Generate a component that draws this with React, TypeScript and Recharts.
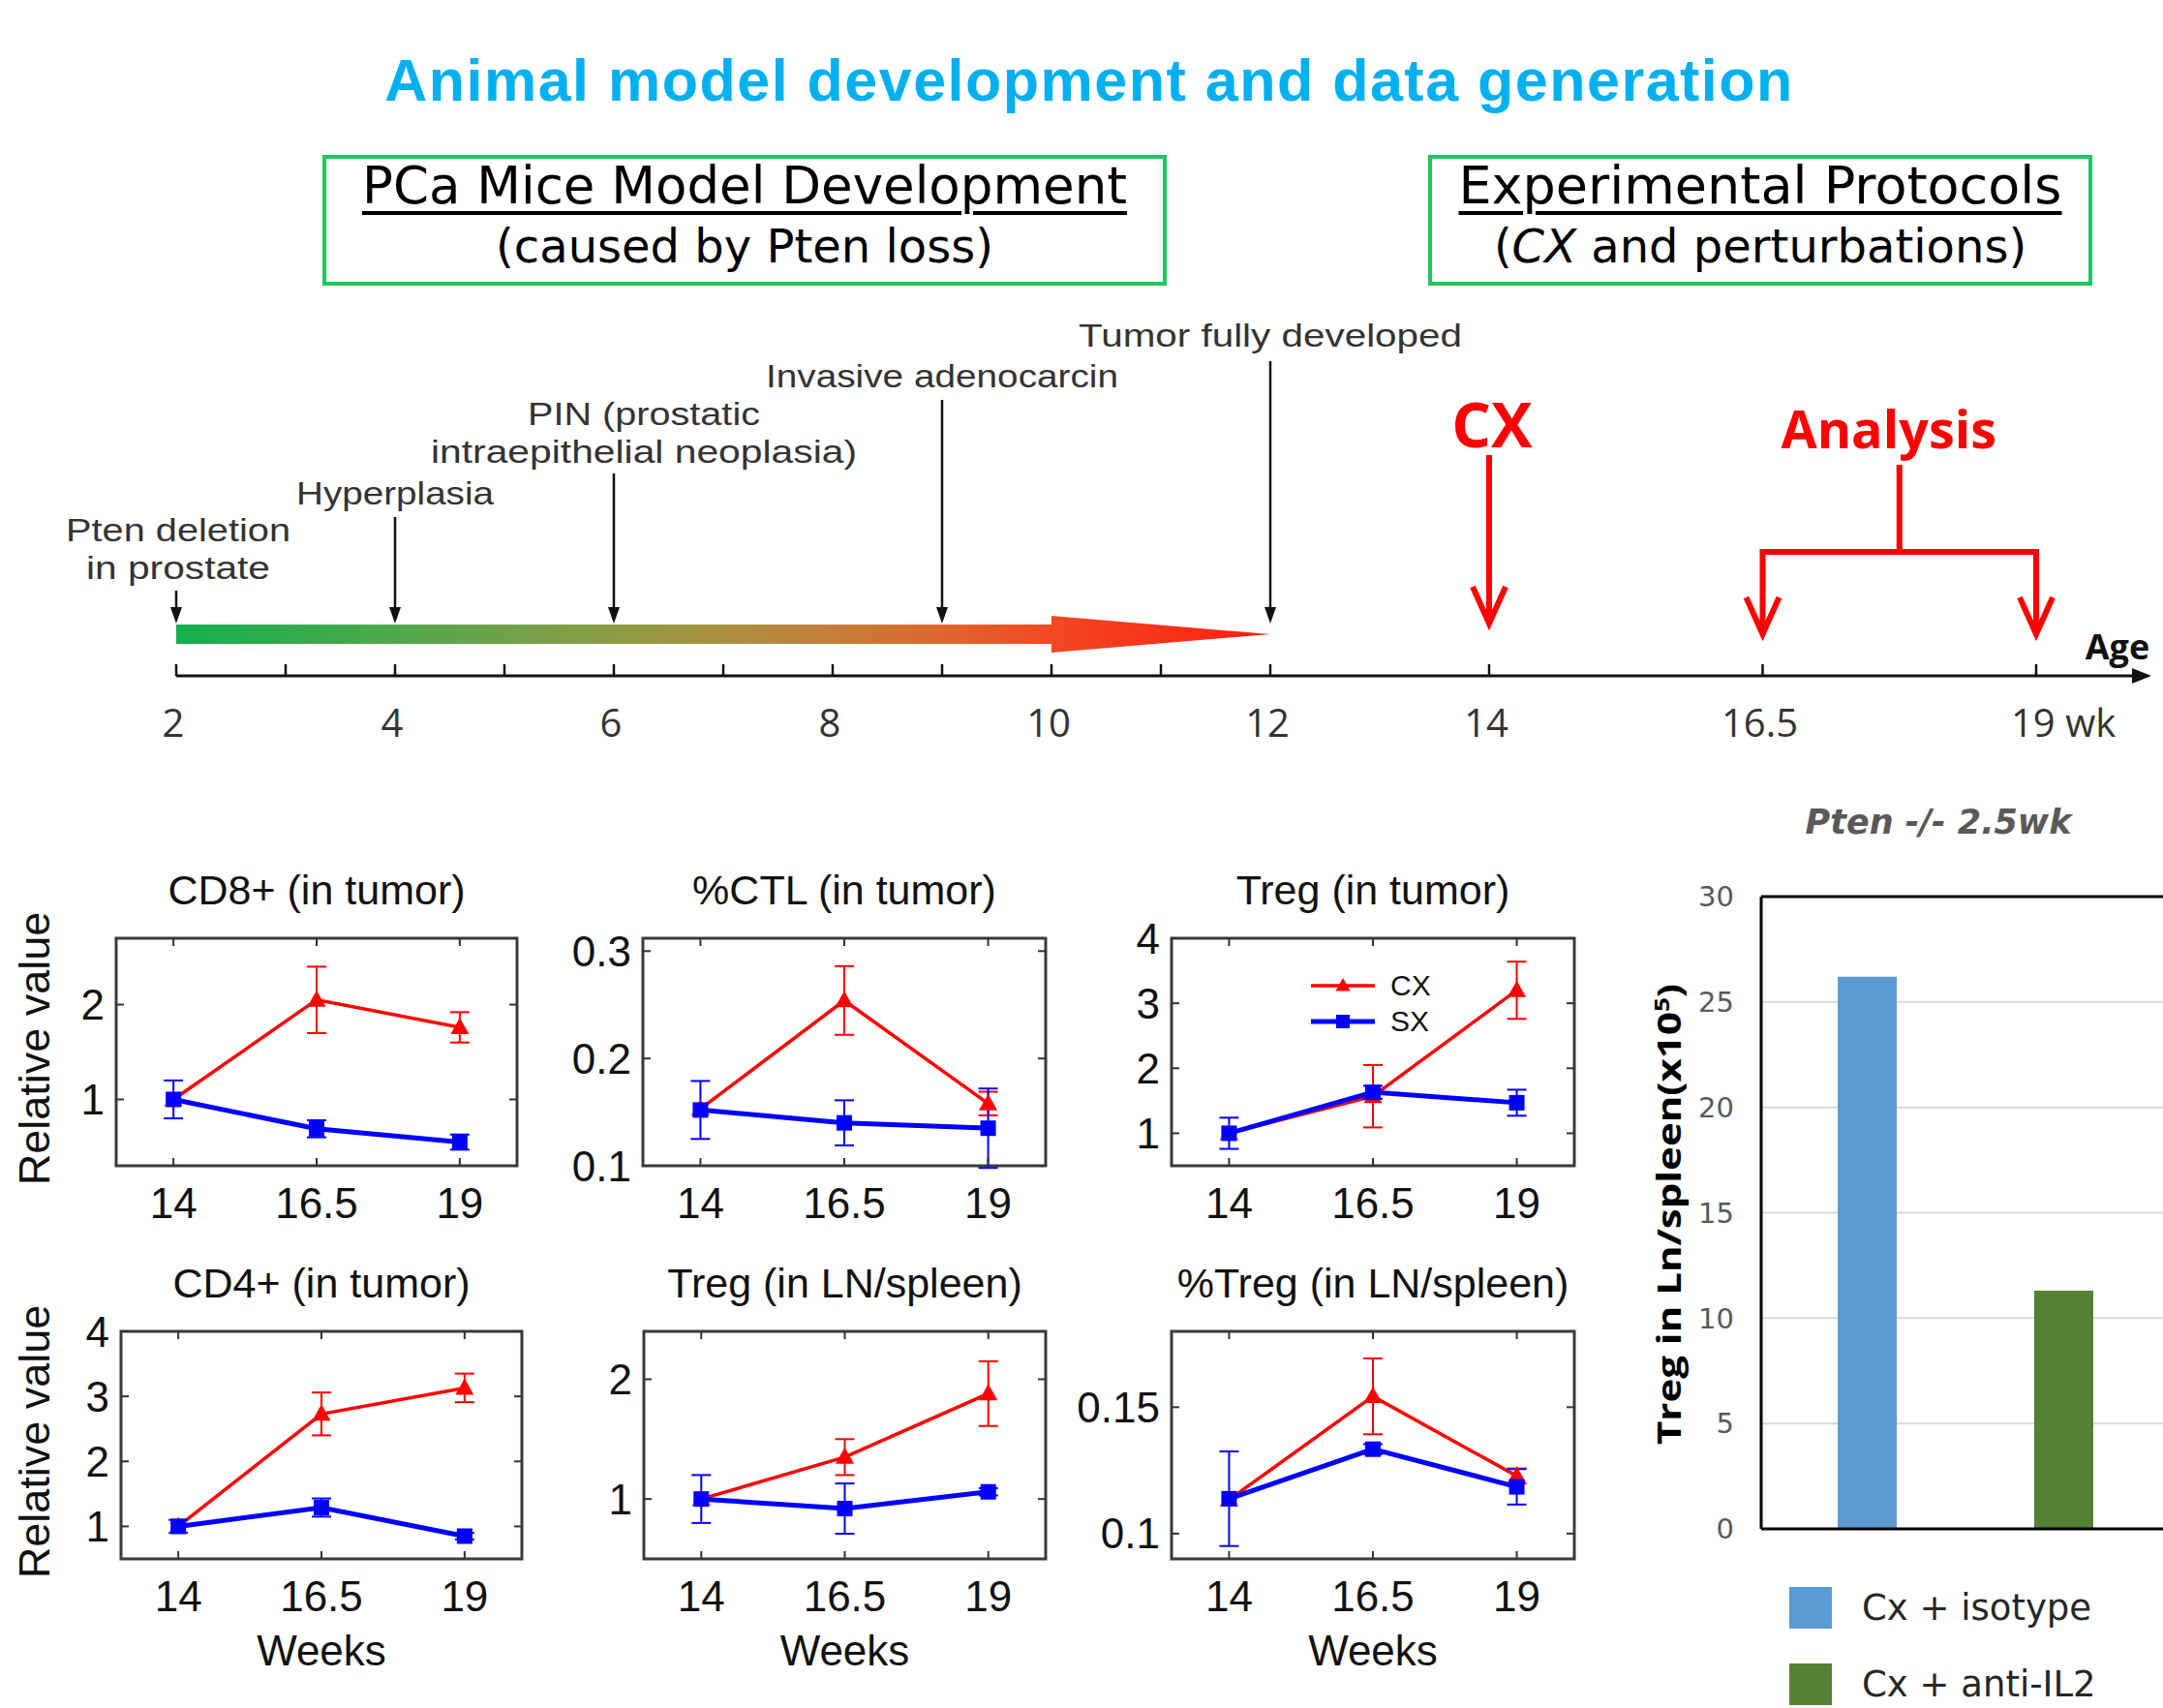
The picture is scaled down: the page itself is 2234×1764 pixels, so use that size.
import React from "react";
import {
  Bar,
  BarChart,
  CartesianGrid,
  ComposedChart,
  ErrorBar,
  Line,
  LineChart,
  ReferenceArea,
  ReferenceDot,
  ReferenceLine,
  Scatter,
  XAxis,
  YAxis,
} from "recharts";

// ---------- timeline ----------
const timelineTicks = [2, 3, 4, 5, 6, 7, 8, 9, 10, 11, 12, 14, 16.5, 19];
const timelineLabelTicks = [2, 4, 6, 8, 10, 12, 14, 16.5, 19];
const stageWeeks = [2, 4, 6, 9, 12];
const stageLabels = [
  ["Pten deletion", "in prostate"],
  ["Hyperplasia"],
  ["PIN (prostatic", "intraepithelial neoplasia)"],
  ["Invasive adenocarcin"],
  ["Tumor fully developed"],
];
const developmentSpan = [2, 10, 12];
const cxWeek = 14;
const analysisWeeks = [16.5, 19];
const timelineEnd = 20;

// ---------- small multiples ----------
const weeks = [14, 16.5, 19];

const cd8Cx = [1.0, 2.05, 1.76];
const cd8CxErr = [0, 0.35, 0.16];
const cd8Sx = [1.0, 0.69, 0.55];
const cd8SxErr = [0.2, 0.09, 0.08];

const ctlCx = [0.153, 0.254, 0.158];
const ctlCxErr = [0, 0.032, 0.011];
const ctlSx = [0.152, 0.14, 0.135];
const ctlSxErr = [0.027, 0.021, 0.037];

const tregTumorCx = [1.0, 1.57, 3.2];
const tregTumorCxErr = [0, 0.48, 0.44];
const tregTumorSx = [1.0, 1.63, 1.47];
const tregTumorSxErr = [0.24, 0.1, 0.2];

const cd4Cx = [1.0, 2.73, 3.13];
const cd4CxErr = [0, 0.33, 0.22];
const cd4Sx = [1.0, 1.29, 0.85];
const cd4SxErr = [0.1, 0.14, 0.05];

const tregLnCx = [1.0, 1.35, 1.88];
const tregLnCxErr = [0, 0.15, 0.27];
const tregLnSx = [1.0, 0.92, 1.06];
const tregLnSxErr = [0.2, 0.21, 0.03];

const pctTregCx = [0.1134, 0.1543, 0.1228];
const pctTregCxErr = [0, 0.015, 0.003];
const pctTregSx = [0.1138, 0.1334, 0.1185];
const pctTregSxErr = [0.0187, 0.002, 0.007];

// ---------- bar chart ----------
const barGroups = ["Cx + isotype", "Cx + anti-IL2"];
const isotypeValues = [26.2, null];
const antiIl2Values = [null, 11.3];
const barTicks = [0, 5, 10, 15, 20, 25, 30];

const panels = [
  { title: "CD8+ (in tumor)", cx: cd8Cx, cxErr: cd8CxErr, sx: cd8Sx, sxErr: cd8SxErr, domain: [0.3, 2.7], ticks: [1, 2] },
  { title: "%CTL (in tumor)", cx: ctlCx, cxErr: ctlCxErr, sx: ctlSx, sxErr: ctlSxErr, domain: [0.1, 0.312], ticks: [0.1, 0.2, 0.3] },
  { title: "Treg (in tumor)", cx: tregTumorCx, cxErr: tregTumorCxErr, sx: tregTumorSx, sxErr: tregTumorSxErr, domain: [0.5, 4], ticks: [1, 2, 3, 4] },
  { title: "CD4+ (in tumor)", cx: cd4Cx, cxErr: cd4CxErr, sx: cd4Sx, sxErr: cd4SxErr, domain: [0.5, 4], ticks: [1, 2, 3, 4] },
  { title: "Treg (in LN/spleen)", cx: tregLnCx, cxErr: tregLnCxErr, sx: tregLnSx, sxErr: tregLnSxErr, domain: [0.5, 2.4], ticks: [1, 2] },
  { title: "%Treg (in LN/spleen)", cx: pctTregCx, cxErr: pctTregCxErr, sx: pctTregSx, sxErr: pctTregSxErr, domain: [0.09, 0.18], ticks: [0.1, 0.15] },
];

// page layout of each panel's plot box
const panelLayout = [
  { left: 120, top: 969, w: 414, h: 235, weeks: false, legend: false },
  { left: 664, top: 969, w: 416, h: 235, weeks: false, legend: false },
  { left: 1210, top: 969, w: 416, h: 235, weeks: false, legend: true },
  { left: 125, top: 1375, w: 414, h: 235, weeks: true, legend: false },
  { left: 665, top: 1375, w: 415, h: 235, weeks: true, legend: false },
  { left: 1210, top: 1375, w: 416, h: 235, weeks: true, legend: false },
];

// timeline label layout (pixels above the axis, text widths)
const stageTail = [88, 164, 209, 285, 325];
const stageLabelRise = [151, 189, 271, 310, 352];
const stageLabelShift = [2, 0, 31, 0, 0];
const stageLabelWidths = [[232, 190], [204], [240, 440], [364], [396]];

const RED = "#ff0000";
const BLUE = "#0000ff";
const SANS = "'Liberation Sans', Arial, sans-serif";
const OPEN = "'Open Sans', 'Noto Sans', sans-serif";

// ---------- timeline shapes ----------
const TimelineTick = (props: any) => {
  const { x, y, payload } = props;
  const v = payload.value;
  const major = timelineLabelTicks.includes(v);
  const last = v === 19;
  return (
    <g>
      <line x1={x} x2={x} y1={y} y2={y - 12} stroke="#111" strokeWidth={2.5} />
      {major && (
        <text
          x={last ? x - 26 : x - 3}
          y={y + 47}
          textAnchor={last ? "start" : "middle"}
          dominantBaseline="central"
          fontSize={40}
          fontFamily={OPEN}
          fill="#333"
        >
          {last ? "19 wk" : v}
        </text>
      )}
    </g>
  );
};

const StageArrow = (props: any) => {
  const { cx, cy, payload } = props;
  const i = payload.i;
  const tip = cy - 54;
  return (
    <g>
      <line x1={cx} x2={cx} y1={cy - stageTail[i]} y2={tip - 10} stroke="#111" strokeWidth={2.5} />
      <path d={`M${cx - 6},${tip - 17} L${cx + 6},${tip - 17} L${cx},${tip} Z`} fill="#111" />
      {payload.label.map((t: string, k: number) => (
        <text
          key={k}
          x={cx + stageLabelShift[i]}
          y={cy - stageLabelRise[i] + k * 39}
          textAnchor="middle"
          dominantBaseline="central"
          fontSize={33}
          fontFamily={SANS}
          fill="#333"
          textLength={stageLabelWidths[i][k]}
          lengthAdjust="spacingAndGlyphs"
        >
          {t}
        </text>
      ))}
    </g>
  );
};

const DevArrow = (props: any) => {
  const { x, y, width, height } = props;
  const base = y + height;
  const [s, b, e] = developmentSpan;
  const xb = x + (width * (b - s)) / (e - s);
  const xe = x + width;
  return (
    <g>
      <defs>
        <linearGradient id="devGrad" x1="0" x2="1" y1="0" y2="0">
          <stop offset="0" stopColor="#12b04f" />
          <stop offset="0.2" stopColor="#50a84c" />
          <stop offset="0.4" stopColor="#8d9b45" />
          <stop offset="0.5" stopColor="#a99040" />
          <stop offset="0.6" stopColor="#c47e3a" />
          <stop offset="0.7" stopColor="#df662e" />
          <stop offset="0.8" stopColor="#f24822" />
          <stop offset="1" stopColor="#ff1e10" />
        </linearGradient>
      </defs>
      <path
        d={`M${x},${base - 53} L${xb},${base - 53} L${xb},${base - 62} L${xe},${base - 43} L${xb},${base - 24} L${xb},${base - 33} L${x},${base - 33} Z`}
        fill="url(#devGrad)"
      />
    </g>
  );
};

const CxArrow = (props: any) => {
  const { cx, cy } = props;
  const tip = cy - 54;
  return (
    <g>
      <g stroke={RED} strokeWidth={6} fill="none">
        <line x1={cx} x2={cx} y1={cy - 228} y2={tip} />
        <polyline points={`${cx - 17},${tip - 38} ${cx},${tip} ${cx + 17},${tip - 38}`} />
      </g>
      <text x={cx + 3} y={cy - 261} textAnchor="middle" dominantBaseline="central" fontSize={64} fontWeight="bold" fontFamily={OPEN} fill={RED}>
        CX
      </text>
    </g>
  );
};

const AnalysisBracket = (props: any) => {
  const { x, y, width, height } = props;
  const base = y + height;
  const x2 = x + width;
  const mid = (x + x2) / 2;
  const by = base - 128;
  const tip = base - 43;
  return (
    <g>
      <g stroke={RED} strokeWidth={6} fill="none">
        <polyline points={`${x},${tip} ${x},${by} ${x2},${by} ${x2},${tip}`} />
        <line x1={mid} x2={mid} y1={base - 218} y2={by} />
        <polyline points={`${x - 17},${tip - 38} ${x},${tip} ${x + 17},${tip - 38}`} />
        <polyline points={`${x2 - 17},${tip - 38} ${x2},${tip} ${x2 + 17},${tip - 38}`} />
      </g>
      <text x={mid - 11} y={base - 256} textAnchor="middle" dominantBaseline="central" fontSize={54} fontWeight="bold" fontFamily={OPEN} fill={RED}>
        Analysis
      </text>
    </g>
  );
};

const AxisHead = (props: any) => {
  const { cx, cy } = props;
  return (
    <g>
      <path d={`M${cx - 14},${cy - 8} L${cx + 6},${cy} L${cx - 14},${cy + 8} Z`} fill="#111" />
      <text x={cx - 29} y={cy - 31} textAnchor="middle" dominantBaseline="central" fontSize={36} fontWeight="bold" fontFamily={OPEN} fill="#111">
        Age
      </text>
    </g>
  );
};

function Timeline() {
  const stageData = stageWeeks.map((w, i) => ({ week: w, y: 0, i, label: stageLabels[i] }));
  return (
    <div style={{ position: "absolute", left: 0, top: 300, width: 2234, height: 500 }}>
      <ComposedChart width={2234} height={500} data={stageData} margin={{ top: 0, right: 18, bottom: 0, left: 182 }}>
        <XAxis
          type="number"
          dataKey="week"
          domain={[developmentSpan[0], timelineEnd]}
          ticks={timelineTicks}
          interval={0}
          height={102}
          tickSize={0}
          tickMargin={0}
          tickLine={false}
          axisLine={{ stroke: "#111", strokeWidth: 3 }}
          tick={TimelineTick}
        />
        <YAxis hide type="number" dataKey="y" domain={[0, 1]} />
        <ReferenceArea x1={developmentSpan[0]} x2={developmentSpan[2]} ifOverflow="visible" shape={DevArrow} />
        <ReferenceArea x1={analysisWeeks[0]} x2={analysisWeeks[1]} ifOverflow="visible" shape={AnalysisBracket} />
        <ReferenceDot x={cxWeek} y={0} ifOverflow="visible" shape={CxArrow} />
        <ReferenceDot x={timelineEnd} y={0} ifOverflow="visible" shape={AxisHead} />
        <Scatter data={stageData} dataKey="y" shape={StageArrow} isAnimationActive={false} />
      </ComposedChart>
    </div>
  );
}

// ---------- small multiple panel ----------
const triangle = (cx: number, cy: number, r: number) =>
  `M${cx},${cy - r} L${cx + r * 0.95},${cy + r * 0.7} L${cx - r * 0.95},${cy + r * 0.7} Z`;

const CxDot = (props: any) => {
  const { cx, cy, index } = props;
  if (cx == null || cy == null) return <g key={index} />;
  return <path key={index} d={triangle(cx, cy, 10)} fill={RED} />;
};

const SxDot = (props: any) => {
  const { cx, cy, index } = props;
  if (cx == null || cy == null) return <g key={index} />;
  return <rect key={index} x={cx - 8} y={cy - 8} width={16} height={16} fill={BLUE} />;
};

function Panel({ p, box }: any) {
  const YW = 110;
  const TOP = 80;
  const RIGHT = 24;
  const XH = 130;
  const W = YW + box.w + RIGHT;
  const H = TOP + box.h + XH;
  const data = weeks.map((w, i) => ({
    week: w,
    cx: p.cx[i],
    cxErr: p.cxErr[i],
    sx: p.sx[i],
    sxErr: p.sxErr[i],
  }));

  const XTick = (t: any) => (
    <g>
      <line x1={t.x} x2={t.x} y1={t.y} y2={t.y - 8} stroke="#333" strokeWidth={2} />
      <line x1={t.x} x2={t.x} y1={t.y - box.h} y2={t.y - box.h + 8} stroke="#333" strokeWidth={2} />
      <text x={t.x} y={t.y + 38} textAnchor="middle" dominantBaseline="central" fontSize={44} fontFamily={SANS} fill="#111">
        {t.payload.value}
      </text>
    </g>
  );
  const YTick = (t: any) => (
    <g>
      <line x1={t.x} x2={t.x + 8} y1={t.y} y2={t.y} stroke="#333" strokeWidth={2} />
      <line x1={t.x + box.w} x2={t.x + box.w - 8} y1={t.y} y2={t.y} stroke="#333" strokeWidth={2} />
      <text x={t.x - 12} y={t.y} textAnchor="end" dominantBaseline="central" fontSize={44} fontFamily={SANS} fill="#111">
        {t.payload.value}
      </text>
    </g>
  );

  return (
    <div style={{ position: "absolute", left: box.left - YW, top: box.top - TOP, width: W, height: H }}>
      <div
        style={{
          position: "absolute",
          left: YW - 60,
          width: box.w + 120,
          top: TOP - 75,
          height: 50,
          lineHeight: "50px",
          textAlign: "center",
          fontFamily: SANS,
          fontSize: 43,
          color: "#111",
          whiteSpace: "nowrap",
        }}
      >
        {p.title}
      </div>
      {box.weeks && (
        <div
          style={{
            position: "absolute",
            left: YW,
            width: box.w,
            top: TOP + box.h + 70,
            height: 50,
            lineHeight: "50px",
            textAlign: "center",
            fontFamily: SANS,
            fontSize: 44,
            color: "#111",
          }}
        >
          Weeks
        </div>
      )}
      {box.legend && (
        <div style={{ position: "absolute", left: YW + 144, top: TOP + 30, fontFamily: SANS, fontSize: 30, color: "#111" }}>
          {[
            { name: "CX", color: RED, dot: "tri" },
            { name: "SX", color: BLUE, dot: "sq" },
          ].map((item) => (
            <div key={item.name} style={{ display: "flex", alignItems: "center", height: 37 }}>
              <svg width={66} height={24}>
                <line x1={0} x2={66} y1={12} y2={12} stroke={item.color} strokeWidth={item.dot === "tri" ? 3.5 : 5} />
                {item.dot === "tri" ? (
                  <path d={triangle(33, 12, 8)} fill={item.color} />
                ) : (
                  <rect x={26} y={5} width={14} height={14} fill={item.color} />
                )}
              </svg>
              <span style={{ marginLeft: 16, lineHeight: "30px" }}>{item.name}</span>
            </div>
          ))}
        </div>
      )}
      <div style={{ position: "absolute", left: 0, top: 0 }}>
        <LineChart width={W} height={H} data={data} margin={{ top: TOP, right: RIGHT, bottom: 0, left: 0 }}>
          <XAxis
            type="number"
            dataKey="week"
            domain={[13, 20]}
            ticks={weeks}
            interval={0}
            allowDataOverflow
            height={XH}
            tickSize={0}
            tickMargin={0}
            tickLine={false}
            axisLine={false}
            tick={XTick}
          />
          <YAxis
            type="number"
            domain={p.domain}
            ticks={p.ticks}
            interval={0}
            allowDataOverflow
            width={YW}
            tickSize={0}
            tickMargin={0}
            tickLine={false}
            axisLine={false}
            tick={YTick}
          />
          <ReferenceArea
            x1={13}
            x2={20}
            y1={p.domain[0]}
            y2={p.domain[1]}
            ifOverflow="visible"
            fill="none"
            fillOpacity={0}
            stroke="#3a3a3a"
            strokeWidth={3}
          />
          <Line dataKey="cx" stroke={RED} strokeWidth={3.5} dot={CxDot} activeDot={false} isAnimationActive={false}>
            <ErrorBar dataKey="cxErr" direction="y" width={10} stroke={RED} strokeWidth={2} isAnimationActive={false} />
          </Line>
          <Line dataKey="sx" stroke={BLUE} strokeWidth={5} dot={SxDot} activeDot={false} isAnimationActive={false}>
            <ErrorBar dataKey="sxErr" direction="y" width={10} stroke={BLUE} strokeWidth={2} isAnimationActive={false} />
          </Line>
        </LineChart>
      </div>
    </div>
  );
}

// ---------- bar chart ----------
function TregBar() {
  const data = barGroups.map((g, i) => ({ group: g, isotype: isotypeValues[i], antiIL2: antiIl2Values[i] }));
  const legendItems = [
    { name: barGroups[0], color: "#5b9bd5" },
    { name: barGroups[1], color: "#548235" },
  ];
  return (
    <div style={{ position: "absolute", left: 1680, top: 830, width: 760, height: 934 }}>
      <div
        style={{
          position: "absolute",
          left: 122,
          width: 400,
          top: -6,
          height: 50,
          lineHeight: "50px",
          textAlign: "center",
          fontFamily: "'DejaVu Sans', sans-serif",
          fontWeight: "bold",
          fontStyle: "italic",
          fontSize: 35,
          color: "#595959",
          whiteSpace: "nowrap",
        }}
      >
        Pten -/- 2.5wk
      </div>
      <div
        style={{
          position: "absolute",
          left: 36 - 300,
          top: 424 - 25,
          width: 600,
          height: 50,
          lineHeight: "50px",
          textAlign: "center",
          transform: "rotate(-90deg) scale(1, 0.8)",
          fontFamily: OPEN,
          fontWeight: "bold",
          fontSize: 42,
          color: "#000",
          whiteSpace: "nowrap",
        }}
      >
        Treg in Ln/spleen(x10<sup style={{ fontSize: 26 }}>5</sup>)
      </div>
      <div style={{ position: "absolute", left: 0, top: 0 }}>
        <BarChart width={760} height={800} data={data} margin={{ top: 96, right: 12, left: 0, bottom: 49 }}>
          <CartesianGrid vertical={false} stroke="#d9d9d9" strokeWidth={2} />
          <XAxis
            dataKey="group"
            type="category"
            tick={false}
            tickLine={false}
            height={2}
            padding={{ left: 8, right: 195 }}
            axisLine={{ stroke: "#000", strokeWidth: 3 }}
          />
          <YAxis
            type="number"
            domain={[0, 30]}
            ticks={barTicks}
            interval={0}
            width={139}
            tickSize={0}
            tickMargin={28}
            tickLine={false}
            axisLine={{ stroke: "#000", strokeWidth: 3 }}
            tick={{ fill: "#595959", fontSize: 29, fontFamily: "'DejaVu Sans', sans-serif" }}
          />
          <ReferenceLine y={30} stroke="#000" strokeWidth={3} />
          <Bar dataKey="isotype" stackId="t" fill="#5b9bd5" barSize={61} isAnimationActive={false} />
          <Bar dataKey="antiIL2" stackId="t" fill="#548235" barSize={61} isAnimationActive={false} />
        </BarChart>
      </div>
      {legendItems.map((item, i) => (
        <div key={item.name} style={{ position: "absolute", left: 168, top: 808 + i * 79, height: 44, display: "flex", alignItems: "center" }}>
          <div style={{ width: 44, height: 43, background: item.color }} />
          <span
            style={{
              marginLeft: 31,
              fontFamily: "'DejaVu Sans', sans-serif",
              fontSize: 37,
              color: "#262626",
              whiteSpace: "nowrap",
            }}
          >
            {item.name}
          </span>
        </div>
      ))}
    </div>
  );
}

function HeaderBox({ left, width, lines, sizes, italicCx }: any) {
  return (
    <div
      style={{
        position: "absolute",
        left,
        top: 160,
        width,
        height: 135,
        boxSizing: "border-box",
        border: "4px solid #22c55e",
        textAlign: "center",
        fontFamily: "'DejaVu Sans', sans-serif",
        color: "#000",
      }}
    >
      <div
        style={{
          fontSize: sizes[0],
          lineHeight: "56px",
          marginTop: 0,
          textDecoration: "underline",
          textDecorationThickness: 4,
          textUnderlineOffset: 8,
          whiteSpace: "nowrap",
        }}
      >
        {lines[0]}
      </div>
      <div style={{ fontSize: sizes[1], lineHeight: "56px", marginTop: 6, whiteSpace: "nowrap" }}>
        {italicCx ? (
          <>
            (<i>CX</i>
            {lines[1].slice(3)}
          </>
        ) : (
          lines[1]
        )}
      </div>
    </div>
  );
}

export default function App() {
  return (
    <div style={{ position: "absolute", left: 0, top: 0, width: 2234, height: 1764, overflow: "hidden", background: "#fff" }}>
      <div
        style={{
          position: "absolute",
          left: 0,
          top: 51,
          width: 2250,
          height: 64,
          lineHeight: "64px",
          textAlign: "center",
          fontFamily: SANS,
          fontWeight: "bold",
          fontSize: 61,
          letterSpacing: 1.5,
          color: "#00b0f0",
          whiteSpace: "nowrap",
        }}
      >
        Animal model development and data generation
      </div>
      <HeaderBox left={333} width={872} sizes={[53, 48]} lines={["PCa Mice Model Development", "(caused by Pten loss)"]} />
      <HeaderBox left={1475} width={686} sizes={[54, 48]} lines={["Experimental Protocols", "(CX and perturbations)"]} italicCx />
      <Timeline />
      {panels.map((p, i) => (
        <Panel key={p.title} p={p} box={panelLayout[i]} />
      ))}
      {[1083, 1489].map((cy) => (
        <div
          key={cy}
          style={{
            position: "absolute",
            left: 36 - 160,
            top: cy - 27,
            width: 320,
            height: 54,
            lineHeight: "54px",
            textAlign: "center",
            transform: "rotate(-90deg)",
            fontFamily: SANS,
            fontSize: 45,
            color: "#111",
            whiteSpace: "nowrap",
          }}
        >
          Relative value
        </div>
      ))}
      <TregBar />
    </div>
  );
}
